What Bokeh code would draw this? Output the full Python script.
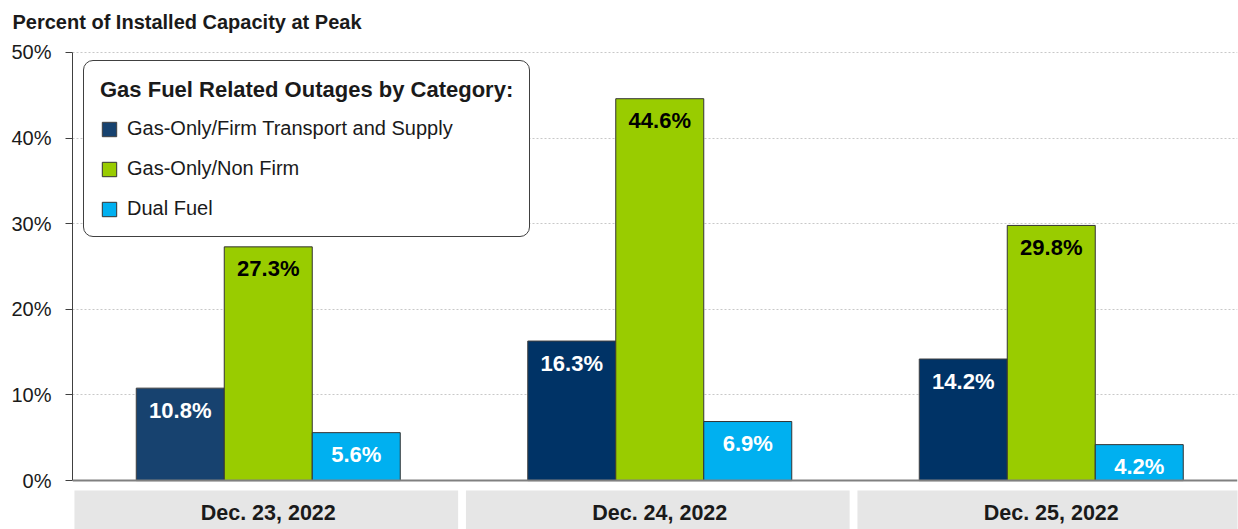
from bokeh.plotting import figure
from bokeh.models import ColumnDataSource, Range1d, FixedTicker, Legend, LegendItem, Span
from bokeh.core.properties import value
from bokeh.transform import dodge
from bokeh.embed import file_html
from bokeh.resources import INLINE

# ---------------- data ----------------
dates = ["Dec. 23, 2022", "Dec. 24, 2022", "Dec. 25, 2022"]
series = ["Gas-Only/Firm Transport and Supply", "Gas-Only/Non Firm", "Dual Fuel"]
firm = [10.8, 16.3, 14.2]
nonfirm = [27.3, 44.6, 29.8]
dual = [5.6, 6.9, 4.2]
y_ticks = [0, 10, 20, 30, 40, 50]
y_tick_labels = ["0%", "10%", "20%", "30%", "40%", "50%"]
legend_title = "Gas Fuel Related Outages by Category:"
chart_title = "Percent of Installed Capacity at Peak"

# ---------------- style ----------------
FONT = "Liberation Sans"
firm_colors = ["#17426F", "#003366", "#003366"]
GREEN = "#99CC00"
LIGHT = "#00B0F0"
TXT = "#1a1a1a"

W, H = 1238, 529
BL, BR, BT = 72, 1, 40
PX_X = 391.5                      # pixels per category
frame_w = W - BL - BR
x_start = -0.5
x_end = x_start + frame_w / PX_X

# y: 0 at 480, 50 at 51 ; frame top 40, bottom 529
ppu = (480 - 51) / 50.0
y_end = 50 + (51 - BT) / ppu
y_start = -(H - 480) / ppu

bw = 88 / PX_X
xs = list(range(len(dates)))

src = ColumnDataSource(dict(
    x=xs, date=dates,
    firm=firm, nonfirm=nonfirm, dual=dual,
    firm_color=firm_colors,
    firm_lbl=[f"{v:.1f}%" for v in firm],
    nonfirm_lbl=[f"{v:.1f}%" for v in nonfirm],
    dual_lbl=[f"{v:.1f}%" for v in dual],
    box_l=[max(x - 0.495, x_start) for x in xs],
    box_r=[x + 0.485 for x in xs],
))

p = figure(width=W, height=H, output_backend="svg", toolbar_location=None,
           x_range=Range1d(x_start, x_end), y_range=Range1d(y_start, y_end),
           min_border_left=BL, min_border_right=BR, min_border_top=BT, min_border_bottom=0)
p.outline_line_color = None
p.background_fill_color = "white"
p.border_fill_color = "white"

# title
p.title.text = chart_title
p.title.align = "left"
p.title.offset = -60
p.title.text_font = FONT
p.title.text_font_size = "20px"
p.title.text_font_style = "bold"
p.title.text_color = TXT
p.title.standoff = 17

# axes
p.xaxis.visible = False
yax = p.yaxis[0]
yax.ticker = FixedTicker(ticks=y_ticks)
yax.major_label_overrides = {t: l for t, l in zip(y_ticks, y_tick_labels)}
yax.bounds = (0, 50)
yax.axis_line_color = "#404040"
yax.axis_line_width = 1
yax.major_tick_line_color = "#404040"
yax.major_tick_out = 7
yax.major_tick_in = 0
yax.minor_tick_line_color = None
yax.major_label_standoff = 14
yax.major_label_text_font = FONT
yax.major_label_text_font_size = "20px"
yax.major_label_text_color = TXT

p.xgrid.visible = False
p.ygrid.ticker = FixedTicker(ticks=y_ticks[1:])
p.ygrid.grid_line_color = "#C8C8C8"
p.ygrid.grid_line_dash = "2 2"
p.ygrid.grid_line_width = 1

# category boxes and labels
p.quad(left="box_l", right="box_r", top=-(490 - 480) / ppu, bottom=y_start - 5, source=src,
       fill_color="#E6E6E6", line_color=None)
p.text(x="x", y=-(512 - 480) / ppu, text="date", source=src, text_align="center",
       text_baseline="middle", text_font=value(FONT), text_font_style="bold",
       text_font_size="21.5px", text_color=TXT)

# bars
r1 = p.vbar(x=dodge("x", -bw, range=p.x_range), top="firm", bottom=0, width=bw, source=src,
            fill_color="firm_color", line_color="#404040", line_width=1)
r2 = p.vbar(x=dodge("x", 0, range=p.x_range), top="nonfirm", bottom=0, width=bw, source=src,
            fill_color=GREEN, line_color="#333333", line_width=1)
r3 = p.vbar(x=dodge("x", bw, range=p.x_range), top="dual", bottom=0, width=bw, source=src,
            fill_color=LIGHT, line_color="#333333", line_width=1)

lbl_kw = dict(source=src, text_align="center", text_baseline="middle", y_offset=22,
              text_font=value(FONT), text_font_style="bold", text_font_size="22px")
p.text(x=dodge("x", -bw, range=p.x_range), y="firm", text="firm_lbl", text_color="white", **lbl_kw)
p.text(x=dodge("x", 0, range=p.x_range), y="nonfirm", text="nonfirm_lbl", text_color="black", **lbl_kw)
p.text(x=dodge("x", bw, range=p.x_range), y="dual", text="dual_lbl", text_color="white", **lbl_kw)

# x axis line at 0
p.add_layout(Span(location=0, dimension="width", line_color="#808080", line_width=2))

# legend
legend = Legend(items=[LegendItem(label=series[0], renderers=[r1], index=0),
                       LegendItem(label=series[1], renderers=[r2], index=0),
                       LegendItem(label=series[2], renderers=[r3], index=0)],
                location=(11, H - 237), title=legend_title)
legend.title_text_font = FONT
legend.title_text_font_size = "22px"
legend.title_text_font_style = "bold"
legend.title_text_color = TXT
legend.title_standoff = 14
legend.label_text_font = FONT
legend.label_text_font_size = "20px"
legend.label_text_color = TXT
legend.glyph_width = 18
legend.glyph_height = 18
legend.label_height = 20
legend.label_standoff = 9
legend.spacing = 17
legend.padding = 16
legend.margin = 0
legend.border_line_color = "#404040"
legend.border_line_alpha = 1
legend.border_line_width = 1.5
legend.background_fill_color = "white"
legend.background_fill_alpha = 1
if "border_radius" in legend.properties():
    legend.border_radius = 10
p.add_layout(legend)

open("out.html", "w").write(file_html(p, INLINE))
